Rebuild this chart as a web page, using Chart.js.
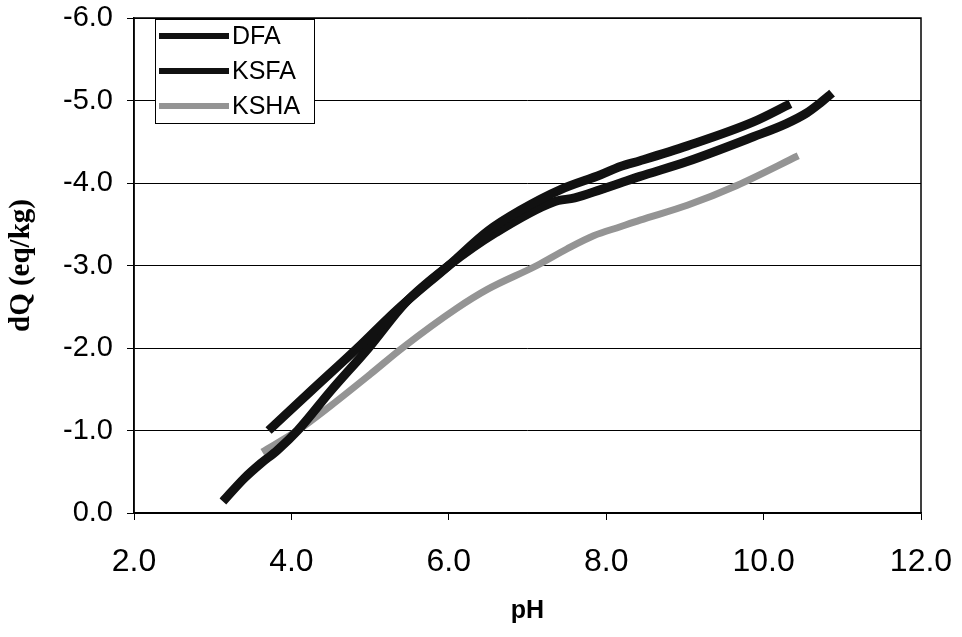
<!DOCTYPE html>
<html>
<head>
<meta charset="utf-8">
<script src="https://cdn.jsdelivr.net/npm/chart.js@4.4.0/dist/chart.umd.min.js"></script>
<style>
  body { margin: 0; background: #fff; }
  #wrap { width: 962px; height: 637px; }
</style>
</head>
<body>
<div id="wrap"><canvas id="titrChart" width="962" height="637"></canvas></div>
<script>
// pH / dQ readings for each sample
const dfaPH  = [3.71, 4.25, 4.84, 5.35, 6.00, 6.50, 6.91, 7.42, 7.93, 8.18, 8.43, 9.03, 9.87, 10.34];
const dfaDQ  = [-1.00, -1.48, -2.00, -2.47, -3.00, -3.42, -3.67, -3.92, -4.10, -4.20, -4.27, -4.45, -4.74, -4.96];

const ksfaPH = [3.13, 3.40, 3.61, 3.82, 4.08, 4.50, 4.98, 5.45, 6.00, 6.60, 7.33, 7.60, 7.93, 8.18, 8.43, 9.03, 9.87, 10.29, 10.55, 10.72, 10.87];
const ksfaDQ = [-0.14, -0.42, -0.60, -0.76, -1.00, -1.48, -2.00, -2.55, -3.00, -3.40, -3.77, -3.82, -3.92, -4.00, -4.08, -4.26, -4.56, -4.72, -4.85, -4.97, -5.09];

const kshaPH = [3.63, 4.08, 4.50, 5.00, 5.41, 6.10, 6.49, 7.12, 7.50, 7.84, 8.18, 8.43, 9.03, 9.66, 10.44];
const kshaDQ = [-0.74, -1.00, -1.30, -1.68, -2.00, -2.48, -2.71, -3.00, -3.20, -3.36, -3.47, -3.55, -3.73, -3.97, -4.33];

const seriesNames = ['DFA', 'KSFA', 'KSHA'];

function pts(xs, ys) {
    return xs.map((x, i) => ({ x: x, y: ys[i] }));
}

// legend box drawn inside the plot, like the original
const boxLegend = {
    id: 'boxLegend',
    afterDraw(chart) {
        const c = chart.ctx;
        const area = chart.chartArea;
        c.save();
        // plot frame
        c.strokeStyle = '#000';
        c.lineWidth = 1.5;
        c.strokeRect(area.left, area.top, area.right - area.left, area.bottom - area.top);

        const x0 = 155, y0 = 19, w = 159, h = 104;
        c.fillStyle = '#fff';
        c.fillRect(x0, y0, w, h);
        c.lineWidth = 1;
        c.strokeRect(x0 + 0.5, y0 + 0.5, w, h);

        c.font = '25px "Liberation Sans", Arial, sans-serif';
        c.textBaseline = 'middle';
        chart.data.datasets.forEach((ds, i) => {
            const y = 36 + i * 35;
            c.strokeStyle = ds.borderColor;
            c.lineWidth = 6;
            c.beginPath();
            c.moveTo(159, y);
            c.lineTo(229, y);
            c.stroke();
            c.fillStyle = '#000';
            c.fillText(ds.label, 232, y + 1);
        });
        c.restore();
    }
};

const ctx = document.getElementById('titrChart').getContext('2d');
const titrChart = new Chart(ctx, {
    type: 'line',
    data: {
        datasets: [
            {
                label: seriesNames[0],
                data: pts(dfaPH, dfaDQ),
                borderColor: '#111',
                borderWidth: 9
            },
            {
                label: seriesNames[1],
                data: pts(ksfaPH, ksfaDQ),
                borderColor: '#111',
                borderWidth: 9
            },
            {
                label: seriesNames[2],
                data: pts(kshaPH, kshaDQ),
                borderColor: '#949494',
                borderWidth: 7
            }
        ]
    },
    options: {
        responsive: false,
        animation: false,
        elements: {
            point: { radius: 0 },
            line: { cubicInterpolationMode: 'monotone', fill: false }
        },
        layout: {
            padding: { top: 18, right: 41, left: 0, bottom: 4 }
        },
        plugins: {
            legend: { display: false },
            tooltip: { enabled: false }
        },
        scales: {
            x: {
                type: 'linear',
                min: 2,
                max: 12,
                ticks: {
                    stepSize: 2,
                    color: '#000',
                    padding: 23,
                    font: { family: '"Liberation Sans", Arial, sans-serif', size: 32 },
                    callback: (v) => v.toFixed(1)
                },
                grid: {
                    drawOnChartArea: false,
                    color: '#000',
                    tickLength: 7
                },
                border: { color: '#000', width: 1.5 },
                title: {
                    display: true,
                    text: 'pH',
                    color: '#000',
                    font: { family: '"Liberation Sans", Arial, sans-serif', size: 25, weight: 'bold' },
                    padding: { top: 0, bottom: 7 }
                },
                afterFit(scale) {
                    scale.height = 120;
                    scale.paddingLeft = 0;
                    scale.paddingRight = 0;
                }
            },
            y: {
                type: 'linear',
                reverse: true,
                min: -6,
                max: 0,
                ticks: {
                    stepSize: 1,
                    color: '#000',
                    padding: 14,
                    font: { family: '"Liberation Sans", Arial, sans-serif', size: 29 },
                    callback: (v) => v.toFixed(1)
                },
                grid: {
                    color: '#000',
                    lineWidth: 1,
                    tickLength: 7
                },
                border: { color: '#000', width: 1.5 },
                title: {
                    display: true,
                    text: 'dQ (eq/kg)',
                    color: '#000',
                    font: { family: '"Liberation Serif", "Times New Roman", serif', size: 29, weight: 'bold' },
                    padding: { top: 4, bottom: 0 }
                },
                afterFit(scale) {
                    scale.width = 134;
                    scale.paddingTop = 0;
                    scale.paddingBottom = 0;
                }
            }
        }
    },
    plugins: [boxLegend]
});
</script>
</body>
</html>
